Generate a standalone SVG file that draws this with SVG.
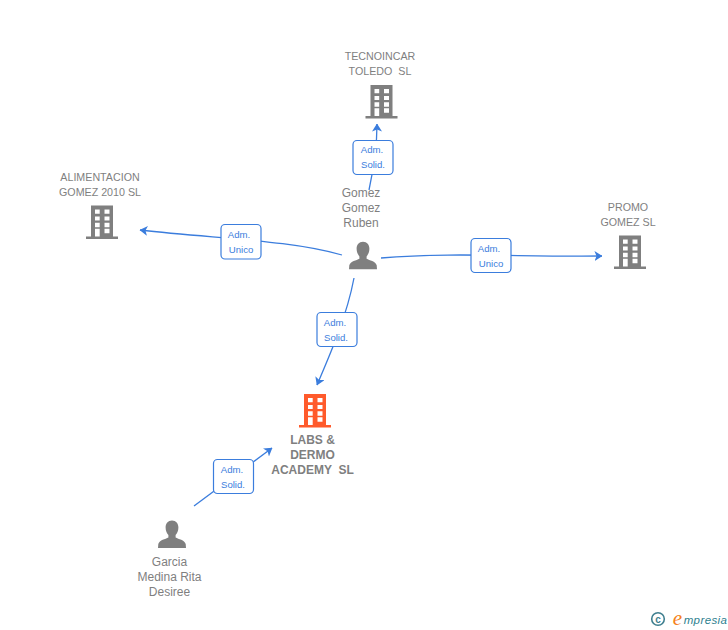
<svg xmlns="http://www.w3.org/2000/svg" width="728" height="630" viewBox="0 0 728 630">
<style>
text{font-family:"Liberation Sans",Arial,sans-serif;text-anchor:middle;white-space:pre}
.org{font-size:10.7px;fill:#7f7f7f}
.per{font-size:12px;fill:#7f7f7f}
.main{font-size:12px;font-weight:bold;fill:#7f7f7f}
.lab{font-size:9.6px;fill:#3b7ddd}
.box{fill:#fff;stroke:#3b7ddd;stroke-width:1.2}
.con{fill:none;stroke:#3b7ddd;stroke-width:1.3}
</style>
<defs>
<marker id="arrow" viewBox="0 0 8 10" refX="7.500" refY="5" markerWidth="8" markerHeight="10" markerUnits="userSpaceOnUse" orient="auto"><path d="M0 0L8 5L0 10L2 5Z" fill="#3b7ddd"/></marker>
<path id="bld" fill-rule="evenodd" d="M-11 0H11V31H16V33.500H-16V31H-11ZM-7 4V8.300H-2.300V4ZM2.500 4V8.300H7.500V4ZM-7 11V15H-2.300V11ZM2.500 11V15H7.500V11ZM-7 17.300V21.700H-2.300V17.300ZM2.500 17.300V21.700H7.500V17.300ZM-7 23.300V31H-2.300V23.300ZM2.500 23.300V27.700H7.500V23.300Z"/>
<path id="psn" d="M0 0C4 0 6.400 3 6.400 7C6.400 10.500 5 13 3.600 14.600V17C6.500 18.600 12.500 19.500 13.700 23.500L14 27.500H-14L-13.700 23.500C-12.500 19.500 -6.500 18.600 -3.600 17V14.600C-5 13 -6.400 10.500 -6.400 7C-6.400 3 -4 0 0 0Z"/>
</defs>
<g id="connectors">
<path class="con" marker-end="url(#arrow)" d="M369 190C372 176 377 150 377 124"/>
<path class="con" marker-end="url(#arrow)" d="M342 255C290 240 220 239 140 230"/>
<path class="con" marker-end="url(#arrow)" d="M381 258C450 252 520 257 602 256"/>
<path class="con" marker-end="url(#arrow)" d="M354 278C347 315 332 350 317 385"/>
<path class="con" marker-end="url(#arrow)" d="M194 506L272 448"/>
</g>
<g id="n-tecnoincar"><use href="#bld" x="381.500" y="85" fill="#7f7f7f"/><text class="org" x="380" y="60">TECNOINCAR</text><text class="org" x="380" y="75">TOLEDO  SL</text></g>
<g id="n-alimentacion"><use href="#bld" x="102" y="205.500" fill="#7f7f7f"/><text class="org" x="100" y="181">ALIMENTACION</text><text class="org" x="100" y="196">GOMEZ 2010 SL</text></g>
<g id="n-promo"><use href="#bld" x="630" y="235.500" fill="#7f7f7f"/><text class="org" x="628" y="211">PROMO</text><text class="org" x="628" y="226">GOMEZ SL</text></g>
<g id="n-labs"><use href="#bld" x="315" y="394" fill="#ff5a2b"/><text class="main" x="312.500" y="444">LABS &amp;</text><text class="main" x="312.500" y="459">DERMO</text><text class="main" x="312.500" y="474">ACADEMY  SL</text></g>
<g id="n-gomez"><use href="#psn" x="363" y="241.800" fill="#7f7f7f"/><text class="per" x="361" y="197">Gomez</text><text class="per" x="361" y="212">Gomez</text><text class="per" x="361" y="227">Ruben</text></g>
<g id="n-garcia"><use href="#psn" x="172" y="520.500" fill="#7f7f7f"/><text class="per" x="169.500" y="566">Garcia</text><text class="per" x="169.500" y="581">Medina Rita</text><text class="per" x="169.500" y="596">Desiree</text></g>
<g id="l1"><rect class="box" x="353" y="140.500" width="40" height="34" rx="4"/><text class="lab" x="372" y="153">Adm.</text><text class="lab" x="373" y="168">Solid.</text></g>
<g id="l2"><rect class="box" x="221" y="224.500" width="40" height="34.500" rx="4"/><text class="lab" x="239" y="238">Adm.</text><text class="lab" x="241" y="253">Unico</text></g>
<g id="l3"><rect class="box" x="471" y="238.500" width="40" height="34" rx="4"/><text class="lab" x="489" y="252">Adm.</text><text class="lab" x="491" y="267">Unico</text></g>
<g id="l4"><rect class="box" x="317" y="312.500" width="40" height="34" rx="4"/><text class="lab" x="335" y="326">Adm.</text><text class="lab" x="336" y="341">Solid.</text></g>
<g id="l5"><rect class="box" x="213.500" y="459.500" width="40" height="34" rx="4"/><text class="lab" x="232" y="473">Adm.</text><text class="lab" x="233" y="488">Solid.</text></g>
<g id="logo"><circle cx="658" cy="619" r="6.300" fill="none" stroke="#3f7f8f" stroke-width="1.600"/><text x="658" y="622.500" style="font-size:10px;font-weight:bold;fill:#3f7f8f">c</text><text x="677.500" y="625" style="font-size:21px;font-style:italic;fill:#f58220;font-family:'Liberation Serif',serif">e</text><text x="705.500" y="624" style="font-size:11.500px;font-style:italic;fill:#2f7f8f;letter-spacing:.4px">mpresia</text></g>
</svg>
